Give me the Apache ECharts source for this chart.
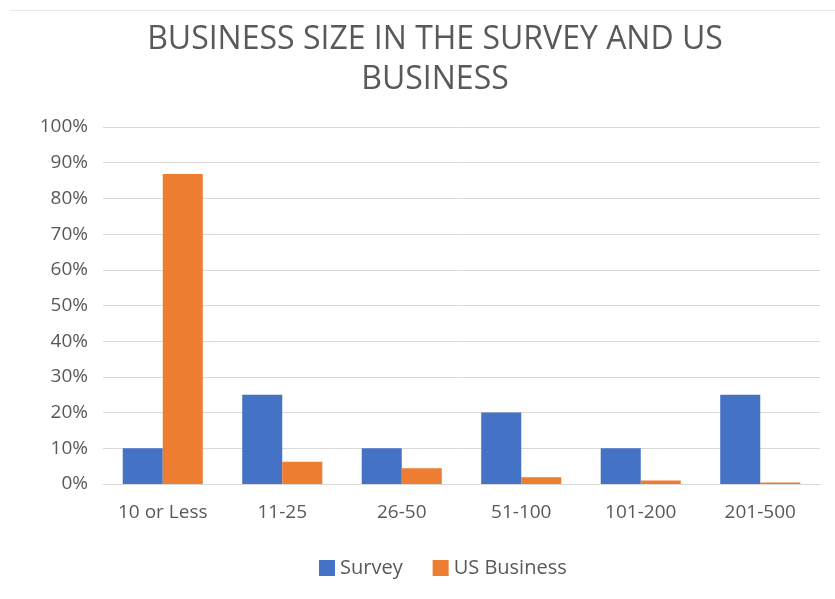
<!DOCTYPE html>
<html>
<head>
<meta charset="utf-8">
<script src="https://cdn.jsdelivr.net/npm/echarts@6/dist/echarts.min.js"></script>
<style>
html, body { margin: 0; padding: 0; background: #fff; }
#wrap { position: relative; width: 835px; height: 599px; }
#myChart { width: 835px; height: 599px; }
#frame { position: absolute; left: 10px; top: 10px; right: 0; height: 0; border-top: 1px solid #e8e8e8; pointer-events: none; }
</style>
</head>
<body>
<div id="wrap">
  <div id="myChart"></div>
  <div id="frame"></div>
</div>
<script>
// data
var categories = ['10 or Less', '11-25', '26-50', '51-100', '101-200', '201-500'];
var surveyData = [10, 25, 10, 20, 10, 25];
var usBusinessData = [86.8, 6.2, 4.4, 1.9, 1.0, 0.4];
var seriesNames = ['Survey', 'US Business'];

var myChart = echarts.init(document.getElementById('myChart'));
var option = {
  backgroundColor: '#fff',
  title: {
    text: 'BUSINESS SIZE IN THE SURVEY AND US\nBUSINESS',
    left: 430,
    top: 15,
    textAlign: 'center',
    textStyle: {
      fontFamily: 'Open Sans',
      fontWeight: 'normal',
      fontSize: 32,
      lineHeight: 40,
      color: '#595959'
    }
  },
  legend: {
    data: seriesNames,
    bottom: 16,
    left: 314,
    itemWidth: 16,
    itemHeight: 16,
    itemGap: 30,
    icon: 'rect',
    textStyle: { fontFamily: 'Open Sans', fontSize: 20, color: '#595959' }
  },
  grid: { left: 103, right: 15, top: 127, bottom: 115 },
  xAxis: {
    type: 'category',
    data: categories,
    axisLine: { lineStyle: { color: '#d9d9d9' } },
    axisTick: { show: false },
    axisLabel: { fontFamily: 'Open Sans', fontSize: 19, color: '#595959', margin: 19 }
  },
  yAxis: {
    type: 'value',
    min: 0,
    max: 100,
    interval: 10,
    axisLine: { show: false },
    axisTick: { show: false },
    splitLine: { lineStyle: { color: '#d9d9d9' } },
    axisLabel: { fontFamily: 'Open Sans', fontSize: 19, color: '#595959', margin: 15, formatter: '{value}%' }
  },
  series: [
    {
      name: 'Survey',
      type: 'bar',
      data: surveyData,
      itemStyle: { color: '#4472c4' },
      barGap: '0%',
      barCategoryGap: '33%'
    },
    {
      name: 'US Business',
      type: 'bar',
      data: usBusinessData,
      itemStyle: { color: '#ed7d31' }
    }
  ]
};
myChart.setOption(option);
</script>
</body>
</html>
